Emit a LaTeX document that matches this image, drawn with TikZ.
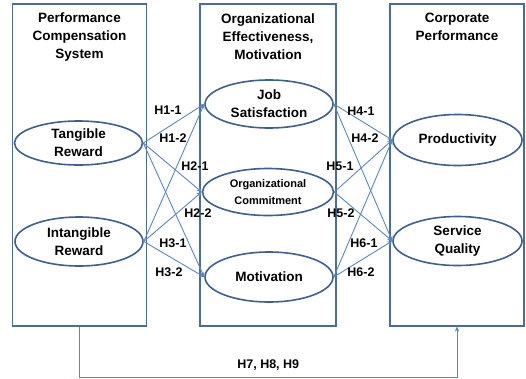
\documentclass[tikz,border=0pt]{standalone}
\usepackage{fontspec}
\setmainfont{Liberation Sans}
\usetikzlibrary{arrows.meta,shapes.geometric}
\definecolor{boxblue}{HTML}{4A6C9C}
\definecolor{ovalblue}{HTML}{3D5F92}
\definecolor{linkblue}{HTML}{5B87C0}
\begin{document}
\begin{tikzpicture}[x=1pt,y=-1pt,
  every node/.style={font=\bfseries\fontsize{13.5}{18}\selectfont},
  panel/.style={draw=boxblue,line width=1.3pt,minimum width=134pt,minimum height=322pt,inner sep=0pt},
  oval/.style={draw=ovalblue,line width=1.6pt,ellipse,inner sep=0pt,minimum width=128pt,minimum height=48pt,align=center},
  link/.style={draw=linkblue,line width=0.9pt,-{Stealth[length=5pt,width=4.5pt]}},
  hyp/.style={font=\bfseries\fontsize{12.5}{14}\selectfont}]
  \useasboundingbox (0,0) rectangle (526,378);
  % three panels
  \node[panel] (comp) at (79.5,165) {};
  \node[panel,minimum width=136pt] (eff) at (268,165) {};
  \node[panel] (perf) at (457,165) {};
  \node[align=center] (compT) at (79.5,37) {Performance\\Compensation\\System};
  \node[align=center] (effT) at (268,37) {Organizational\\Effectiveness,\\Motivation};
  \node[align=center] (perfT) at (457,27) {Corporate\\Performance};
  % constructs
  \node[oval,minimum height=44pt] (tang) at (78.5,143) {Tangible\\Reward};
  \node[oval,minimum height=49pt] (intang) at (79,241.5) {Intangible\\Reward};
  \node[oval] (job) at (269,104) {Job\\Satisfaction};
  \node[oval,minimum width=131pt,minimum height=47pt,font=\bfseries\fontsize{11}{17}\selectfont] (commit) at (268,192) {Organizational\\Commitment};
  \node[oval,minimum height=50pt] (motiv) at (269,277) {Motivation};
  \node[oval,minimum width=129pt,minimum height=51pt] (prod) at (457.5,140) {Productivity};
  \node[oval,minimum width=129pt,minimum height=49pt] (serv) at (457.5,241) {Service\\Quality};
  % paths H1 - H6
  \foreach \src in {tang,intang}
    \foreach \dst in {job,commit,motiv}
      \draw[link] (\src.east) -- (\dst.west);
  \foreach \src in {job,commit,motiv}
    \foreach \dst in {prod,serv}
      \draw[link] (\src.east) -- (\dst.west);
  \node[hyp] (h11) at (168,110) {H1-1};
  \node[hyp] (h12) at (173,138) {H1-2};
  \node[hyp] (h21) at (195,166) {H2-1};
  \node[hyp] (h22) at (198,213) {H2-2};
  \node[hyp] (h31) at (173,243) {H3-1};
  \node[hyp] (h32) at (169,272) {H3-2};
  \node[hyp] (h41) at (361,111) {H4-1};
  \node[hyp] (h42) at (365,138) {H4-2};
  \node[hyp] (h51) at (340,166) {H5-1};
  \node[hyp] (h52) at (341,213) {H5-2};
  \node[hyp] (h61) at (364,243) {H6-1};
  \node[hyp] (h62) at (361,272) {H6-2};
  % direct effect
  \draw[link] (comp.south) -- ++(0,51) -| node[hyp,pos=0.25,above=3pt] {H7, H8, H9} (perf.south);
\end{tikzpicture}
\end{document}
